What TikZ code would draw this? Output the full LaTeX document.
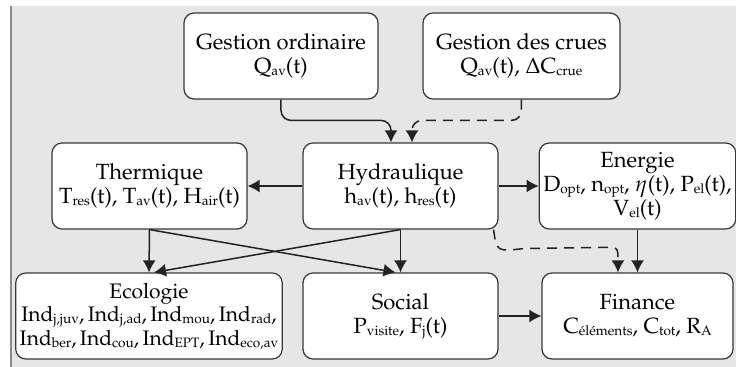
\documentclass[tikz,border=0pt]{standalone}
\usepackage[T1]{fontenc}
\usepackage{mathpazo}
\usepackage{tikz}
\usetikzlibrary{positioning,arrows.meta,calc}
\definecolor{panel}{HTML}{E6E6E6}
\definecolor{rim}{HTML}{8A8A8A}
\definecolor{ink}{HTML}{222222}
\newcommand{\ix}[1]{\smash{\raisebox{-0.2ex}{\fontsize{6.8}{7}\selectfont #1}}}

\begin{document}
\begin{tikzpicture}[
  x=0.5pt, y=-0.5pt,
  font=\fontsize{11}{12}\selectfont,
  block/.style={draw=ink!90, line width=0.6pt, rounded corners=5pt, align=center, fill=white, minimum height=43pt, inner sep=2pt},
  flow/.style={-{Latex[length=6pt,width=6.5pt]}, line width=0.75pt, draw=ink},
  dflow/.style={flow, dash pattern=on 5pt off 3.5pt}
]
  \useasboundingbox (0,0) rectangle (736,367);
  \fill[panel] (11,6) rectangle (736,367);
  \draw[rim, line width=0.8pt] (11,6) -- (11,367);

  \node[block, minimum width=97pt]   (gord)  at (281,56)    {Gestion ordinaire\\Q\ix{av}(t)};
  \node[block, minimum width=98.5pt] (gcru)  at (521.5,56)  {Gestion des crues\\Q\ix{av}(t), $\Delta$C\ix{crue}};
  \node[block, minimum width=97.5pt] (therm) at (149.5,186) {Thermique\\T\ix{res}(t), T\ix{av}(t), H\ix{air}(t)};
  \node[block, minimum width=97.5pt] (hydr)  at (400.5,186) {Hydraulique\\h\ix{av}(t), h\ix{res}(t)};
  \node[block, minimum width=95.5pt] (ener)  at (637.5,186) {Energie\\D\ix{opt}, n\ix{opt}, $\eta$(t), P\ix{el}(t),\\V\ix{el}(t)};
  \node[block, minimum width=133pt, font=\fontsize{10.5}{11.7}\selectfont] (eco) at (149,316)
    {Ecologie\\Ind\ix{j,juv},\,Ind\ix{j,ad},\,Ind\ix{mou},\,Ind\ix{rad},\\Ind\ix{ber},\,Ind\ix{cou},\,Ind\ix{EPT},\,Ind\ix{eco,av}};
  \node[block, minimum width=97.5pt] (soc)   at (400.5,316) {Social\\P\ix{visite}, F\ix{j}(t)};
  \node[block, minimum width=95.5pt] (fin)   at (637.5,316) {Finance\\C\ix{éléments}, C\ix{tot}, R\ix{A}};

  \draw[flow, rounded corners=5pt] (gord.south) |- ($(hydr.north)+(-9.5,-22)$) -- ([xshift=-4.75pt]hydr.north);
  \draw[dflow, rounded corners=5pt] (gcru.south) |- ($(hydr.north)+(11.5,-22)$) -- ([xshift=5.75pt]hydr.north);
  \draw[flow] (hydr) -- (therm);
  \draw[flow] (hydr) -- (ener);
  \draw[flow] (therm.south) -- (eco.north);
  \draw[flow] (therm.south) -- ([xshift=-2.5pt]soc.north);
  \draw[flow] (hydr.south) -- (soc.north);
  \draw[flow] (hydr.south) -- ([xshift=2.5pt]eco.north);
  \draw[dflow] ([xshift=-2.5pt]hydr.south east) .. controls ($(hydr.south east)+(-2,22)$) .. ($(hydr.south east)+(25,19)$)
    -- ($(fin.north)+(-32,-25)$) .. controls ($(fin.north)+(-19.5,-25)$) .. ([xshift=-9.75pt]fin.north);
  \draw[flow] (ener) -- (fin);
  \draw[flow] (soc) -- (fin);

\end{tikzpicture}
\end{document}
